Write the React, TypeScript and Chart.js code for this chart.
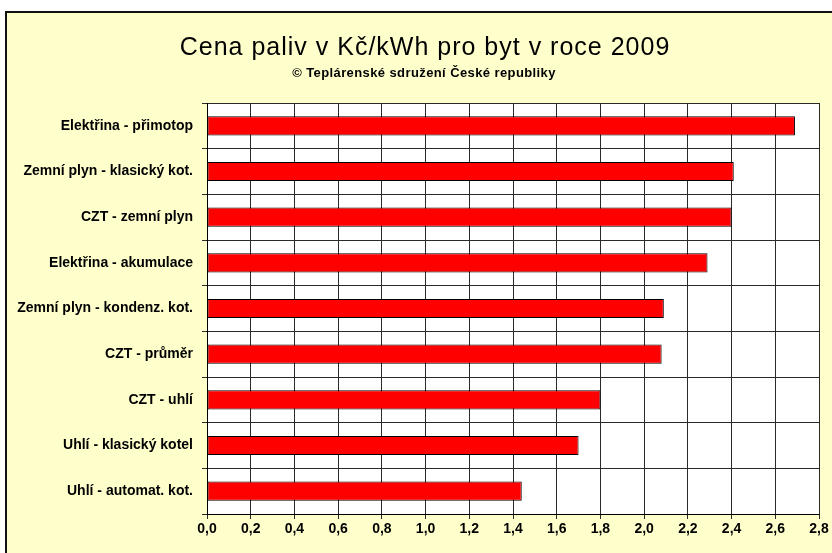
import React, { useEffect, useRef } from "react";
import { Chart, registerables } from "chart.js";

Chart.register(...registerables);

const TITLE = "Cena paliv v Kč/kWh pro byt v roce 2009";
const SUBTITLE = "© Teplárenské sdružení České republiky";

const categories = [
  "Elektřina - přimotop",
  "Zemní plyn - klasický kot.",
  "CZT - zemní plyn",
  "Elektřina - akumulace",
  "Zemní plyn - kondenz. kot.",
  "CZT - průměr",
  "CZT - uhlí",
  "Uhlí - klasický kotel",
  "Uhlí - automat. kot.",
];

const prices = [2.69, 2.41, 2.4, 2.29, 2.09, 2.08, 1.8, 1.7, 1.44];

const X_MIN = 0;
const X_MAX = 2.8;
const X_STEP = 0.2;

const FONT = "'Liberation Sans', Arial, sans-serif";

const plotBackground = {
  id: "plotBackground",
  beforeDraw(chart: any) {
    const { ctx, chartArea } = chart;
    if (!chartArea) return;
    ctx.save();
    ctx.fillStyle = "#FFFFFF";
    ctx.fillRect(
      chartArea.left,
      chartArea.top,
      chartArea.right - chartArea.left,
      chartArea.bottom - chartArea.top
    );
    ctx.restore();
  },
};

const titlePlugin = {
  id: "spacedTitle",
  afterDraw(chart: any) {
    const ctx = chart.ctx as any;
    ctx.save();
    ctx.fillStyle = "#000000";
    ctx.textAlign = "center";
    ctx.textBaseline = "alphabetic";
    ctx.font = `25px ${FONT}`;
    ctx.letterSpacing = "1px";
    ctx.fillText(TITLE, 425, 55);
    ctx.font = `bold 13px ${FONT}`;
    ctx.letterSpacing = "0.4px";
    ctx.fillText(SUBTITLE, 424, 77);
    ctx.restore();
  },
};

export default function App() {
  const canvasRef = useRef<HTMLCanvasElement | null>(null);

  useEffect(() => {
    if (!canvasRef.current) return;
    const chart = new Chart(canvasRef.current, {
      type: "bar",
      data: {
        labels: categories,
        datasets: [
          {
            label: "Kč/kWh",
            data: prices,
            backgroundColor: "#FF0000",
            borderColor: "#000000",
            borderWidth: 1,
            borderSkipped: false,
            barPercentage: 0.42,
            categoryPercentage: 1,
          },
        ],
      },
      options: {
        indexAxis: "y",
        animation: false,
        responsive: false,
        maintainAspectRatio: false,
        layout: { padding: { top: 103, right: 13, bottom: 0, left: 0 } },
        plugins: {
          legend: { display: false },
          title: { display: false },
          tooltip: { enabled: false },
        },
        scales: {
          x: {
            type: "linear",
            position: "bottom",
            min: X_MIN,
            max: X_MAX,
            ticks: {
              stepSize: X_STEP,
              color: "#000000",
              padding: 2,
              font: { family: FONT, size: 14, weight: "bold" },
              callback: (v: any) => Number(v).toFixed(1).replace(".", ","),
              maxRotation: 0,
              autoSkip: false,
            },
            grid: {
              color: "#2a2a2a",
              lineWidth: 1,
              tickLength: 5,
              drawTicks: true,
            },
            border: { color: "#000000", width: 1 },
            afterFit: (s: any) => {
              s.height = 39;
            },
          },
          y: {
            type: "category",
            position: "left",
            offset: true,
            ticks: {
              color: "#000000",
              padding: 9,
              font: { family: FONT, size: 14, weight: "bold" },
              autoSkip: false,
            },
            grid: {
              color: "#2a2a2a",
              lineWidth: 1,
              tickLength: 5,
              offset: true,
              drawTicks: true,
            },
            border: { color: "#000000", width: 1 },
            afterFit: (s: any) => {
              s.width = 207;
            },
          },
        },
      },
      plugins: [plotBackground, titlePlugin],
    });
    return () => chart.destroy();
  }, []);

  return (
    <div
      style={{
        position: "fixed",
        left: 0,
        top: 0,
        width: 832,
        height: 553,
        overflow: "hidden",
        background: "#FFFFFF",
      }}
    >
      <div
        style={{
          position: "absolute",
          left: 5,
          top: 11,
          width: 860,
          height: 580,
          background: "#FFFFCC",
          border: "2px solid #111111",
        }}
      />
      <canvas
        ref={canvasRef}
        width={832}
        height={553}
        style={{ position: "absolute", left: 0, top: 0, width: 832, height: 553 }}
      />
    </div>
  );
}
